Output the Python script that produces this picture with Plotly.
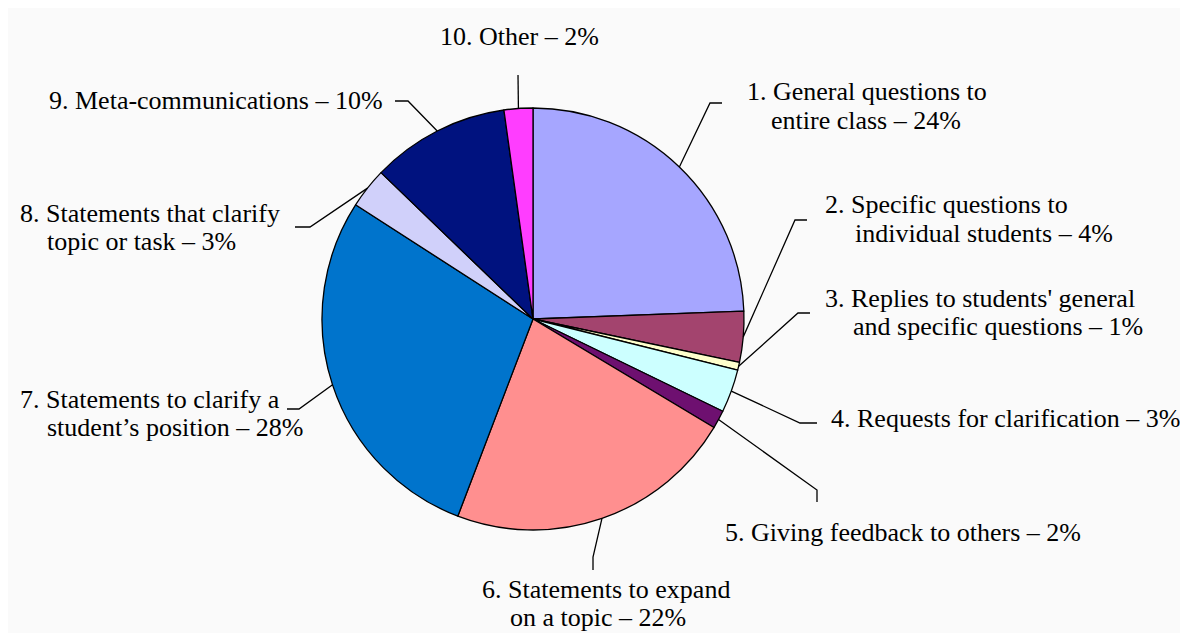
import math
import plotly.graph_objects as go

# ---- data ----
categories = [
    "1. General questions to entire class",
    "2. Specific questions to individual students",
    "3. Replies to students' general and specific questions",
    "4. Requests for clarification",
    "5. Giving feedback to others",
    "6. Statements to expand on a topic",
    "7. Statements to clarify a student's position",
    "8. Statements that clarify topic or task",
    "9. Meta-communications",
    "10. Other",
]
values = [24.4, 3.9, 0.6, 3.3, 1.4, 22.2, 28.3, 3.1, 10.6, 2.2]
colors = ["#A6A6FF", "#A3446E", "#FFFFCC", "#CCFFFF", "#6E1070",
          "#FF8F8F", "#0074CC", "#D0D0FA", "#00127F", "#FF3DFF"]

# label text lines (first line, continuation lines)
label_lines = [
    ["1. General questions to", "entire class \u2013 24%"],
    ["2. Specific questions to", "individual students \u2013 4%"],
    ["3. Replies to students' general", "and specific questions \u2013 1%"],
    ["4. Requests for clarification \u2013 3%"],
    ["5. Giving feedback to others \u2013 2%"],
    ["6. Statements to expand", "on a topic \u2013 22%"],
    ["7. Statements to clarify a", "student\u2019s position \u2013 28%"],
    ["8. Statements that clarify", "topic or task \u2013 3%"],
    ["9. Meta-communications \u2013 10%"],
    ["10. Other \u2013 2%"],
]

# ---- layout (pixels in the photographed window) ----
OFF = 8  # page body margin
W, H = 1188 - 2 * OFF, 641 - 2 * OFF
CX, CY, R = 533, 319, 211
FS = 26
LINE_H = 28.5

# label first-line left x, first-line center y, continuation-line left x
label_pos = [
    (745, 92, 769),
    (823, 205, 853),
    (823, 298, 851),
    (829, 418, None),
    (723, 532, None),
    (480, 589, 508),
    (18, 399, 45),
    (18, 213, 45),
    (47, 100, None),
    (438, 37, None),
]
# leader line elbow and end points
leader_pts = [
    [(710, 103), (722, 103)],
    [(795, 220), (807, 220)],
    [(798, 313), (810, 313)],
    [(800, 423), (817, 423)],
    [(817, 490), (817, 502)],
    [(593, 557), (593, 570)],
    [(299, 409), (287, 409)],
    [(310, 227), (295, 227)],
    [(408, 101), (395, 101)],
    [(518, 75)],
]


def px(x):
    return (x - OFF) / W


def py(y):
    return 1 - (y - OFF) / H


fig = go.Figure()
fig.add_trace(go.Pie(
    labels=categories,
    values=values,
    sort=False,
    direction="clockwise",
    rotation=0,
    textinfo="none",
    hoverinfo="label+percent",
    marker=dict(colors=colors, line=dict(color="black", width=1.3)),
    domain=dict(x=[px(CX - R), px(CX + R)], y=[py(CY + R), py(CY - R)]),
    showlegend=False,
))

shapes = [dict(type="rect", xref="paper", yref="paper",
               x0=0, x1=1, y0=0, y1=1,
               fillcolor="#FAFAFA", line=dict(width=0), layer="below")]

total = sum(values)
cum = 0.0
for i, v in enumerate(values):
    mid = (cum + v / 2) / total * 2 * math.pi
    cum += v
    sx = CX + R * math.sin(mid)
    sy = CY - R * math.cos(mid)
    pts = [(sx, sy)] + leader_pts[i]
    path = "M " + " L ".join(f"{px(x):.5f},{py(y):.5f}" for x, y in pts)
    shapes.append(dict(type="path", xref="paper", yref="paper", path=path,
                       line=dict(color="black", width=1.3)))

annotations = []
for lines, (x1, y1, x2) in zip(label_lines, label_pos):
    for j, t in enumerate(lines):
        annotations.append(dict(
            text=t, xref="paper", yref="paper",
            x=px(x1 if j == 0 else x2), y=py(y1 + j * LINE_H),
            xanchor="left", yanchor="middle", showarrow=False,
            font=dict(family="Liberation Serif", size=FS, color="black"),
        ))

fig.update_layout(
    width=W, height=H,
    margin=dict(l=0, r=0, t=0, b=0),
    paper_bgcolor="#FAFAFA",
    plot_bgcolor="#FAFAFA",
    shapes=shapes,
    annotations=annotations,
)

fig.write_html("out.html")
